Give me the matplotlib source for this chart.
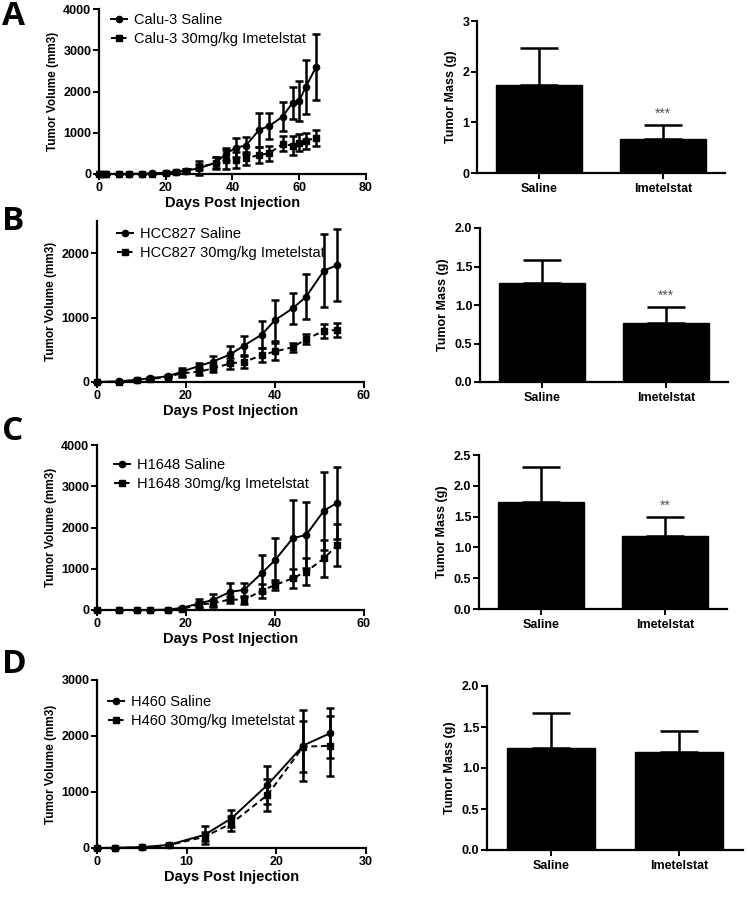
import matplotlib

matplotlib.use("Agg")
import matplotlib.pyplot as plt
from matplotlib.lines import Line2D

plt.rcParams["font.family"] = ["Liberation Sans", "DejaVu Sans"]

# growth curves: days, mean volume (mm3), sem
A_DAYS = [0, 1, 2, 6, 9, 13, 16, 20, 23, 26, 30, 35, 38, 41, 44, 48, 51, 55, 58, 60, 62, 65]
A_SAL = [0, 0, 0, 5, 5, 10, 15, 30, 60, 80, 140, 275, 485, 640, 690, 1070, 1165, 1390, 1730, 1780, 2115, 2590]
A_SAL_ERR = [0, 0, 0, 0, 0, 0, 0, 10, 20, 40, 170, 130, 140, 230, 200, 420, 320, 350, 390, 485, 650, 795]
A_IME = [0, 0, 0, 0, 5, 5, 10, 20, 50, 80, 170, 260, 350, 340, 380, 460, 500, 730, 690, 760, 800, 880]
A_IME_ERR = [0, 0, 0, 0, 0, 0, 0, 10, 20, 40, 80, 150, 220, 200, 160, 200, 180, 180, 220, 200, 185, 190]

B_DAYS = [0, 5, 9, 12, 16, 19, 23, 26, 30, 33, 37, 40, 44, 47, 51, 54]
B_SAL = [0, 10, 35, 60, 90, 160, 250, 315, 430, 565, 735, 960, 1145, 1325, 1730, 1815]
B_SAL_ERR = [0, 5, 10, 15, 20, 60, 50, 90, 125, 150, 210, 320, 240, 345, 565, 555]
B_IME = [0, 5, 25, 45, 80, 135, 160, 210, 290, 310, 415, 475, 540, 665, 795, 810]
B_IME_ERR = [0, 0, 10, 15, 20, 50, 50, 60, 90, 100, 110, 130, 70, 80, 110, 110]

C_DAYS = [0, 5, 9, 12, 16, 19, 23, 26, 30, 33, 37, 40, 44, 47, 51, 54]
C_SAL = [0, 0, 0, 0, 10, 50, 160, 240, 445, 485, 890, 1210, 1740, 1820, 2410, 2600]
C_SAL_ERR = [0, 0, 0, 0, 5, 30, 100, 140, 200, 180, 445, 525, 930, 810, 945, 870]
C_IME = [0, 0, 0, 0, 0, 20, 135, 160, 260, 240, 470, 605, 770, 930, 1250, 1575]
C_IME_ERR = [0, 0, 0, 0, 0, 10, 60, 80, 90, 100, 170, 130, 230, 320, 440, 520]

D_DAYS = [0, 2, 5, 8, 12, 15, 19, 23, 26]
D_SAL = [0, 5, 15, 55, 235, 530, 1125, 1830, 2050]
D_SAL_ERR = [0, 0, 10, 20, 160, 150, 340, 640, 445]
D_IME = [0, 0, 10, 50, 200, 440, 945, 1810, 1825]
D_IME_ERR = [0, 0, 5, 15, 80, 130, 290, 450, 540]

# tumor mass bars: saline, imetelstat
GROUPS = ["Saline", "Imetelstat"]
A_MASS = [1.73, 0.68]
A_MASS_ERR = [0.73, 0.27]
B_MASS = [1.28, 0.77]
B_MASS_ERR = [0.30, 0.20]
C_MASS = [1.74, 1.19]
C_MASS_ERR = [0.57, 0.30]
D_MASS = [1.24, 1.20]
D_MASS_ERR = [0.43, 0.25]

LINE = "#000000"
DASH = (0, (3, 2))
W, H = 748, 899


def px_axes(fig, x0, y0, x1, y1):
    return fig.add_axes([x0 / W, 1 - y1 / H, (x1 - x0) / W, (y1 - y0) / H])


def style(ax):
    for side in ["top", "right"]:
        ax.spines[side].set_visible(False)
    for side in ["left", "bottom"]:
        ax.spines[side].set_linewidth(1.6)
    ax.tick_params(width=1.4, length=4, labelsize=9, pad=1.5)
    for lab in ax.get_xticklabels() + ax.get_yticklabels():
        lab.set_fontweight("bold")


def growth(ax, days, sal, sal_err, ime, ime_err, cell, xmax, ymax, yticks, xticks, leg_xy):
    ax.errorbar(days, sal, yerr=sal_err, color=LINE, marker="o", markersize=4.5,
                lw=1.4, elinewidth=1.8, capsize=2.6, capthick=1.8,
                clip_on=False, zorder=3)
    ax.errorbar(days, ime, yerr=ime_err, color=LINE, marker="s", markersize=4.5,
                lw=1.4, ls=DASH, elinewidth=1.8, capsize=2.6, capthick=1.8,
                clip_on=False, zorder=3)
    ax.set_xlim(0, xmax)
    ax.set_ylim(0, ymax)
    ax.set_xticks(xticks)
    ax.set_yticks(yticks)
    ax.set_xlabel("Days Post Injection", fontsize=10.5, fontweight="bold", labelpad=2)
    ax.set_ylabel("Tumor Volume (mm3)", fontsize=8.5, fontweight="bold", labelpad=3)
    style(ax)
    handles = [
        Line2D([], [], color=LINE, marker="o", markersize=4.5, lw=1.4),
        Line2D([], [], color=LINE, marker="s", markersize=4.5, lw=1.4, ls=DASH),
    ]
    ax.legend(handles, [f"{cell} Saline", f"{cell} 30mg/kg Imetelstat"],
              loc="upper left", bbox_to_anchor=leg_xy, frameon=False,
              fontsize=10.5, handlelength=1.1, labelspacing=0.35,
              handletextpad=0.5, borderpad=0, borderaxespad=0)


def mass(ax, vals, errs, ymax, yticks, fmt, stars):
    x = list(range(len(GROUPS)))
    ax.bar(x, vals, width=0.69, color="black", edgecolor="black")
    ax.errorbar(x, vals, yerr=[[0] * len(errs), errs], fmt="none", ecolor="black",
                elinewidth=1.8, capsize=14, capthick=1.8)
    ax.set_xlim(-0.5, 1.5)
    ax.set_ylim(0, ymax)
    ax.set_yticks(yticks)
    ax.set_yticklabels([fmt.format(t) for t in yticks])
    ax.set_xticks(x)
    ax.set_xticklabels(GROUPS)
    ax.set_ylabel("Tumor Mass (g)", fontsize=9, fontweight="bold", labelpad=4)
    style(ax)
    ax.tick_params(axis="x", labelsize=9, pad=3)
    if stars:
        ax.annotate(stars, (1, vals[1] + errs[1]), xytext=(0, 3), textcoords="offset points",
                    ha="center", va="bottom", fontsize=10, color="#555555")


fig = plt.figure(figsize=(W / 100, H / 100), dpi=100)

ax = px_axes(fig, 99, 9, 366, 174)
growth(ax, A_DAYS, A_SAL, A_SAL_ERR, A_IME, A_IME_ERR, "Calu-3", 80, 4000,
       [0, 1000, 2000, 3000, 4000], [0, 20, 40, 60, 80], (0.045, 0.976))
ax = px_axes(fig, 477, 21, 725, 173)
mass(ax, A_MASS, A_MASS_ERR, 3, [0, 1, 2, 3], "{:.0f}", "***")

ax = px_axes(fig, 97, 221, 364, 382)
growth(ax, B_DAYS, B_SAL, B_SAL_ERR, B_IME, B_IME_ERR, "HCC827", 60, 2500,
       [0, 1000, 2000], [0, 20, 40, 60], (0.075, 0.965))
ax = px_axes(fig, 480, 228, 728, 382)
mass(ax, B_MASS, B_MASS_ERR, 2, [0, 0.5, 1, 1.5, 2], "{:.1f}", "***")

ax = px_axes(fig, 97, 445, 364, 610)
growth(ax, C_DAYS, C_SAL, C_SAL_ERR, C_IME, C_IME_ERR, "H1648", 60, 4000,
       [0, 1000, 2000, 3000, 4000], [0, 20, 40, 60], (0.062, 0.92))
ax = px_axes(fig, 479, 455, 727, 609)
mass(ax, C_MASS, C_MASS_ERR, 2.5, [0, 0.5, 1, 1.5, 2, 2.5], "{:.1f}", "**")

ax = px_axes(fig, 97, 680, 366, 848)
growth(ax, D_DAYS, D_SAL, D_SAL_ERR, D_IME, D_IME_ERR, "H460", 30, 3000,
       [0, 1000, 2000, 3000], [0, 10, 20, 30], (0.04, 0.912))
ax = px_axes(fig, 487, 686, 743, 850)
mass(ax, D_MASS, D_MASS_ERR, 2, [0, 0.5, 1, 1.5, 2], "{:.1f}", "")

for letter, ytop in [("A", 0), ("B", 205), ("C", 415), ("D", 648)]:
    fig.text(2 / W, 1 - ytop / H, letter, fontsize=24, fontweight="bold",
             family=["Open Sans", "DejaVu Sans"], ha="left", va="top")

fig.savefig("out.png", dpi=100)
